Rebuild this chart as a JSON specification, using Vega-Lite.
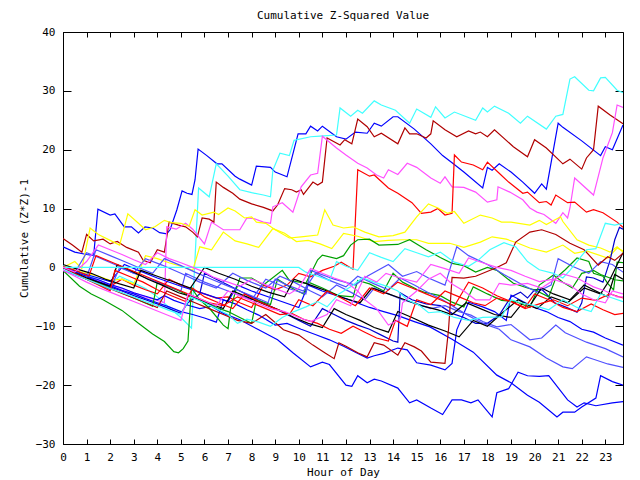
{
"$schema": "https://vega.github.io/schema/vega-lite/v6.json",
"width": 560, "height": 412,
"autosize": "none",
"padding": {"left": 63, "top": 32, "right": 17, "bottom": 36},
"background": "white",
"title": {"text": "Cumulative Z-Squared Value", "font": "DejaVu Sans Mono", "fontSize": 11, "fontWeight": "normal", "color": "black", "offset": 5, "frame": "group"},
"config": {"view": {"stroke": "black", "strokeWidth": 1}, "axis": {"labelFont": "DejaVu Sans Mono", "titleFont": "DejaVu Sans Mono", "labelFontSize": 11, "titleFontSize": 11, "titleFontWeight": "normal", "labelColor": "black", "titleColor": "black", "domainColor": "black", "tickColor": "black", "grid": false}},
"datasets": {"d": [
{"s":"b1","h":0,"v":3.5},{"s":"b1","h":0.5,"v":2.6},{"s":"b1","h":1.0,"v":2.2},{"s":"b1","h":1.3,"v":2.0},{"s":"b1","h":1.48,"v":9.9},{"s":"b1","h":2.0,"v":8.9},{"s":"b1","h":2.2,"v":9.1},{"s":"b1","h":2.6,"v":6.9},{"s":"b1","h":2.9,"v":6.9},{"s":"b1","h":3.2,"v":5.85},{"s":"b1","h":3.48,"v":6.9},{"s":"b1","h":3.8,"v":6.7},{"s":"b1","h":4.1,"v":5.9},{"s":"b1","h":4.4,"v":5.7},{"s":"b1","h":4.54,"v":6.4},{"s":"b1","h":4.83,"v":9.8},{"s":"b1","h":5.05,"v":13},{"s":"b1","h":5.26,"v":12.6},{"s":"b1","h":5.47,"v":12.4},{"s":"b1","h":5.6,"v":14.9},{"s":"b1","h":5.73,"v":20.1},{"s":"b1","h":6.1,"v":19},{"s":"b1","h":6.53,"v":17.6},{"s":"b1","h":6.74,"v":17.6},{"s":"b1","h":7.3,"v":15.5},{"s":"b1","h":7.5,"v":15},{"s":"b1","h":8.0,"v":14},{"s":"b1","h":8.2,"v":17.2},{"s":"b1","h":8.8,"v":17},{"s":"b1","h":9.0,"v":16.2},{"s":"b1","h":9.5,"v":15.4},{"s":"b1","h":9.97,"v":22.7},{"s":"b1","h":10.3,"v":22.7},{"s":"b1","h":10.5,"v":24},{"s":"b1","h":10.8,"v":23.2},{"s":"b1","h":11.0,"v":24},{"s":"b1","h":11.6,"v":22.2},{"s":"b1","h":12.0,"v":21.8},{"s":"b1","h":12.4,"v":23},{"s":"b1","h":12.9,"v":22.8},{"s":"b1","h":13.2,"v":24.5},{"s":"b1","h":13.5,"v":24},{"s":"b1","h":14.0,"v":25.6},{"s":"b1","h":14.2,"v":25.6},{"s":"b1","h":14.9,"v":23.5},{"s":"b1","h":15.6,"v":21},{"s":"b1","h":16.1,"v":19},{"s":"b1","h":16.5,"v":17.8},{"s":"b1","h":17.0,"v":16.2},{"s":"b1","h":17.8,"v":13.5},{"s":"b1","h":18.0,"v":17},{"s":"b1","h":18.2,"v":16.5},{"s":"b1","h":18.5,"v":17.6},{"s":"b1","h":19.0,"v":16.2},{"s":"b1","h":19.5,"v":14.5},{"s":"b1","h":20.0,"v":12.6},{"s":"b1","h":20.3,"v":14.2},{"s":"b1","h":20.5,"v":13.3},{"s":"b1","h":21.0,"v":24.5},{"s":"b1","h":21.2,"v":23.8},{"s":"b1","h":22.0,"v":21.5},{"s":"b1","h":22.8,"v":19},{"s":"b1","h":23.0,"v":20.5},{"s":"b1","h":23.3,"v":20},{"s":"b1","h":23.75,"v":24.2},
{"s":"c1","h":0,"v":0.3},{"s":"c1","h":0.5,"v":-0.5},{"s":"c1","h":1,"v":-1.3},{"s":"c1","h":1.5,"v":-2.1},{"s":"c1","h":2,"v":-2.9},{"s":"c1","h":2.4,"v":-1.5},{"s":"c1","h":3,"v":-2.6},{"s":"c1","h":3.5,"v":-3.6},{"s":"c1","h":4,"v":-5},{"s":"c1","h":4.5,"v":-6.8},{"s":"c1","h":5,"v":-8.5},{"s":"c1","h":5.45,"v":-10.3},{"s":"c1","h":5.75,"v":13.5},{"s":"c1","h":6.2,"v":12},{"s":"c1","h":6.5,"v":17.6},{"s":"c1","h":7,"v":15.5},{"s":"c1","h":7.5,"v":13.2},{"s":"c1","h":8.0,"v":12.7},{"s":"c1","h":8.5,"v":12.3},{"s":"c1","h":8.8,"v":12},{"s":"c1","h":8.9,"v":16.5},{"s":"c1","h":9.2,"v":19.4},{"s":"c1","h":9.6,"v":19},{"s":"c1","h":9.8,"v":21.6},{"s":"c1","h":10.5,"v":22.2},{"s":"c1","h":10.9,"v":22.3},{"s":"c1","h":11.6,"v":22.5},{"s":"c1","h":11.75,"v":27.1},{"s":"c1","h":12.2,"v":25.7},{"s":"c1","h":12.5,"v":26.7},{"s":"c1","h":12.7,"v":26.2},{"s":"c1","h":13.2,"v":28.3},{"s":"c1","h":13.5,"v":27.6},{"s":"c1","h":14.1,"v":26.7},{"s":"c1","h":14.7,"v":24.5},{"s":"c1","h":15.0,"v":26.9},{"s":"c1","h":15.6,"v":25.5},{"s":"c1","h":15.8,"v":27.3},{"s":"c1","h":16.2,"v":25.4},{"s":"c1","h":16.6,"v":26.4},{"s":"c1","h":17.5,"v":25},{"s":"c1","h":17.8,"v":27.1},{"s":"c1","h":18.0,"v":26.4},{"s":"c1","h":18.3,"v":27.4},{"s":"c1","h":18.9,"v":26.2},{"s":"c1","h":19.4,"v":24.5},{"s":"c1","h":19.7,"v":25.7},{"s":"c1","h":20.5,"v":23.5},{"s":"c1","h":20.9,"v":25.7},{"s":"c1","h":21.2,"v":26},{"s":"c1","h":21.5,"v":32},{"s":"c1","h":21.7,"v":32.4},{"s":"c1","h":22.3,"v":30.1},{"s":"c1","h":22.5,"v":30},{"s":"c1","h":22.8,"v":32.2},{"s":"c1","h":23.0,"v":32.3},{"s":"c1","h":23.5,"v":30.1},{"s":"c1","h":23.75,"v":29.7},
{"s":"r2","h":0,"v":4.9},{"s":"r2","h":0.4,"v":3.8},{"s":"r2","h":0.8,"v":2.6},{"s":"r2","h":1.0,"v":5.6},{"s":"r2","h":1.3,"v":4.5},{"s":"r2","h":1.7,"v":4.8},{"s":"r2","h":2.0,"v":4},{"s":"r2","h":2.3,"v":4.4},{"s":"r2","h":2.7,"v":3.4},{"s":"r2","h":3.2,"v":2.6},{"s":"r2","h":3.4,"v":1.2},{"s":"r2","h":3.7,"v":0.8},{"s":"r2","h":4.0,"v":3},{"s":"r2","h":4.3,"v":2.6},{"s":"r2","h":4.5,"v":7.7},{"s":"r2","h":4.9,"v":7.2},{"s":"r2","h":5.2,"v":6.9},{"s":"r2","h":5.5,"v":6},{"s":"r2","h":5.7,"v":5.2},{"s":"r2","h":5.9,"v":8.4},{"s":"r2","h":6.2,"v":8.2},{"s":"r2","h":6.4,"v":7.7},{"s":"r2","h":6.5,"v":14.5},{"s":"r2","h":6.8,"v":13.6},{"s":"r2","h":7.2,"v":12.6},{"s":"r2","h":7.5,"v":11.6},{"s":"r2","h":8.0,"v":10.8},{"s":"r2","h":8.5,"v":10.2},{"s":"r2","h":8.9,"v":9.6},{"s":"r2","h":9.1,"v":10.6},{"s":"r2","h":9.4,"v":13.4},{"s":"r2","h":9.7,"v":13.2},{"s":"r2","h":9.9,"v":12.8},{"s":"r2","h":10.1,"v":13.2},{"s":"r2","h":10.2,"v":12.4},{"s":"r2","h":10.6,"v":14.5},{"s":"r2","h":10.8,"v":14},{"s":"r2","h":11.0,"v":14.5},{"s":"r2","h":11.2,"v":22},{"s":"r2","h":11.75,"v":20.8},{"s":"r2","h":11.95,"v":21.7},{"s":"r2","h":12.25,"v":21},{"s":"r2","h":12.5,"v":25.2},{"s":"r2","h":12.9,"v":23.9},{"s":"r2","h":13.2,"v":22.2},{"s":"r2","h":13.5,"v":22.8},{"s":"r2","h":14.2,"v":21},{"s":"r2","h":14.5,"v":23.7},{"s":"r2","h":14.7,"v":22.7},{"s":"r2","h":15.0,"v":22.7},{"s":"r2","h":15.4,"v":22},{"s":"r2","h":15.6,"v":22.7},{"s":"r2","h":15.7,"v":24.9},{"s":"r2","h":16.2,"v":23.4},{"s":"r2","h":16.7,"v":22.2},{"s":"r2","h":17.2,"v":23.2},{"s":"r2","h":17.5,"v":22.7},{"s":"r2","h":17.7,"v":23},{"s":"r2","h":18.0,"v":22.2},{"s":"r2","h":18.3,"v":23.4},{"s":"r2","h":19.1,"v":20.5},{"s":"r2","h":19.7,"v":18.8},{"s":"r2","h":20.0,"v":21.7},{"s":"r2","h":20.5,"v":20.3},{"s":"r2","h":21.2,"v":17.6},{"s":"r2","h":21.5,"v":18.4},{"s":"r2","h":22.0,"v":16.7},{"s":"r2","h":22.2,"v":18.6},{"s":"r2","h":22.5,"v":20},{"s":"r2","h":22.7,"v":27.4},{"s":"r2","h":23.2,"v":25.9},{"s":"r2","h":23.75,"v":24.4},
{"s":"m1","h":0,"v":0},{"s":"m1","h":0.5,"v":-0.8},{"s":"m1","h":1,"v":-1.5},{"s":"m1","h":1.5,"v":-2.2},{"s":"m1","h":2,"v":-2.9},{"s":"m1","h":2.5,"v":-3.6},{"s":"m1","h":3,"v":-4.3},{"s":"m1","h":3.5,"v":-5},{"s":"m1","h":4,"v":-5.6},{"s":"m1","h":4.3,"v":-6},{"s":"m1","h":4.4,"v":6.9},{"s":"m1","h":4.8,"v":6.5},{"s":"m1","h":5.2,"v":7.5},{"s":"m1","h":5.5,"v":6.5},{"s":"m1","h":6.0,"v":4.0},{"s":"m1","h":6.3,"v":7.7},{"s":"m1","h":6.8,"v":6.4},{"s":"m1","h":7.3,"v":6.4},{"s":"m1","h":7.5,"v":6.4},{"s":"m1","h":7.8,"v":8.4},{"s":"m1","h":8.1,"v":8.3},{"s":"m1","h":8.5,"v":7.7},{"s":"m1","h":8.8,"v":7.5},{"s":"m1","h":8.9,"v":10.3},{"s":"m1","h":9.3,"v":11},{"s":"m1","h":9.75,"v":9.4},{"s":"m1","h":10.1,"v":13.7},{"s":"m1","h":10.5,"v":15.7},{"s":"m1","h":10.8,"v":16},{"s":"m1","h":11.0,"v":22.3},{"s":"m1","h":11.6,"v":20.3},{"s":"m1","h":12.0,"v":19.1},{"s":"m1","h":12.5,"v":17.7},{"s":"m1","h":12.9,"v":16.9},{"s":"m1","h":13.3,"v":15.7},{"s":"m1","h":13.6,"v":15.2},{"s":"m1","h":13.8,"v":16.6},{"s":"m1","h":14.2,"v":15.8},{"s":"m1","h":14.6,"v":17.7},{"s":"m1","h":15.0,"v":17},{"s":"m1","h":15.6,"v":15.2},{"s":"m1","h":16.0,"v":14.3},{"s":"m1","h":16.2,"v":15.4},{"s":"m1","h":16.5,"v":13.7},{"s":"m1","h":17.0,"v":13.6},{"s":"m1","h":17.5,"v":12.8},{"s":"m1","h":18.0,"v":11.1},{"s":"m1","h":18.4,"v":11.5},{"s":"m1","h":18.45,"v":13.7},{"s":"m1","h":18.95,"v":12.8},{"s":"m1","h":19.5,"v":11.5},{"s":"m1","h":19.8,"v":10.1},{"s":"m1","h":20.1,"v":9.4},{"s":"m1","h":20.4,"v":9},{"s":"m1","h":20.9,"v":7.5},{"s":"m1","h":21.2,"v":9.3},{"s":"m1","h":21.4,"v":8.4},{"s":"m1","h":21.5,"v":10.1},{"s":"m1","h":21.7,"v":15.2},{"s":"m1","h":22.5,"v":12.3},{"s":"m1","h":22.9,"v":18.6},{"s":"m1","h":23.3,"v":22.9},{"s":"m1","h":23.5,"v":27.6},{"s":"m1","h":23.75,"v":27.2},
{"s":"r1","h":0,"v":0},{"s":"r1","h":0.5,"v":-1},{"s":"r1","h":1,"v":-1.8},{"s":"r1","h":1.5,"v":-2.5},{"s":"r1","h":2,"v":-3.2},{"s":"r1","h":2.5,"v":-2},{"s":"r1","h":3,"v":-3},{"s":"r1","h":3.5,"v":-3.8},{"s":"r1","h":4,"v":-4.5},{"s":"r1","h":4.5,"v":-2},{"s":"r1","h":5,"v":-3},{"s":"r1","h":5.5,"v":-3.8},{"s":"r1","h":6,"v":-4.5},{"s":"r1","h":6.5,"v":-5.2},{"s":"r1","h":7,"v":-5},{"s":"r1","h":7.5,"v":-6},{"s":"r1","h":8,"v":-6.8},{"s":"r1","h":8.5,"v":-3},{"s":"r1","h":9,"v":-3.8},{"s":"r1","h":9.5,"v":-3},{"s":"r1","h":10,"v":-1},{"s":"r1","h":10.5,"v":-1.6},{"s":"r1","h":11,"v":-0.5},{"s":"r1","h":11.5,"v":0.2},{"s":"r1","h":11.8,"v":0.9},{"s":"r1","h":12.3,"v":-0.3},{"s":"r1","h":12.5,"v":16.6},{"s":"r1","h":13.0,"v":15.5},{"s":"r1","h":13.2,"v":15.7},{"s":"r1","h":13.8,"v":13.5},{"s":"r1","h":14.2,"v":12.6},{"s":"r1","h":14.8,"v":11},{"s":"r1","h":15.2,"v":9.2},{"s":"r1","h":15.6,"v":9.4},{"s":"r1","h":15.9,"v":10},{"s":"r1","h":16.2,"v":8.9},{"s":"r1","h":16.5,"v":9.2},{"s":"r1","h":16.6,"v":19.1},{"s":"r1","h":16.9,"v":17.9},{"s":"r1","h":17.4,"v":17.4},{"s":"r1","h":17.8,"v":16.6},{"s":"r1","h":18.0,"v":17.9},{"s":"r1","h":18.5,"v":16},{"s":"r1","h":18.9,"v":14.5},{"s":"r1","h":19.5,"v":12.6},{"s":"r1","h":19.7,"v":12.8},{"s":"r1","h":20.2,"v":11},{"s":"r1","h":20.5,"v":11.2},{"s":"r1","h":20.7,"v":10.6},{"s":"r1","h":20.9,"v":12.3},{"s":"r1","h":21.4,"v":11},{"s":"r1","h":21.7,"v":11.1},{"s":"r1","h":22.2,"v":9.4},{"s":"r1","h":22.5,"v":9.8},{"s":"r1","h":22.9,"v":9.3},{"s":"r1","h":23.5,"v":7.7},{"s":"r1","h":23.75,"v":6.8},
{"s":"y1","h":0,"v":0},{"s":"y1","h":0.5,"v":1},{"s":"y1","h":0.8,"v":-0.2},{"s":"y1","h":1.15,"v":6.7},{"s":"y1","h":1.5,"v":5.6},{"s":"y1","h":2.0,"v":4.6},{"s":"y1","h":2.4,"v":3.8},{"s":"y1","h":2.75,"v":9.1},{"s":"y1","h":3.2,"v":7.5},{"s":"y1","h":3.5,"v":6.4},{"s":"y1","h":3.9,"v":6.9},{"s":"y1","h":4.3,"v":8},{"s":"y1","h":4.6,"v":7.6},{"s":"y1","h":5.0,"v":7.5},{"s":"y1","h":5.35,"v":7},{"s":"y1","h":5.6,"v":9.8},{"s":"y1","h":5.9,"v":8.9},{"s":"y1","h":6.4,"v":9.4},{"s":"y1","h":6.6,"v":9},{"s":"y1","h":7.0,"v":10.1},{"s":"y1","h":7.3,"v":9.6},{"s":"y1","h":7.7,"v":8.4},{"s":"y1","h":8.0,"v":8.6},{"s":"y1","h":8.2,"v":7.7},{"s":"y1","h":8.6,"v":7.5},{"s":"y1","h":9.0,"v":6.4},{"s":"y1","h":9.6,"v":5},{"s":"y1","h":10.1,"v":5.2},{"s":"y1","h":10.8,"v":5.5},{"s":"y1","h":11.1,"v":9.8},{"s":"y1","h":11.45,"v":7.2},{"s":"y1","h":11.9,"v":6.7},{"s":"y1","h":12.3,"v":6.9},{"s":"y1","h":12.8,"v":6},{"s":"y1","h":13.4,"v":5.2},{"s":"y1","h":14.0,"v":5.4},{"s":"y1","h":14.5,"v":6},{"s":"y1","h":15.0,"v":8.6},{"s":"y1","h":15.5,"v":10.8},{"s":"y1","h":15.9,"v":10.1},{"s":"y1","h":16.3,"v":9.2},{"s":"y1","h":16.6,"v":9.5},{"s":"y1","h":17.0,"v":7.5},{"s":"y1","h":17.7,"v":8.9},{"s":"y1","h":18.2,"v":8.4},{"s":"y1","h":18.6,"v":7.7},{"s":"y1","h":19.0,"v":7.7},{"s":"y1","h":19.8,"v":7.2},{"s":"y1","h":20.2,"v":8},{"s":"y1","h":20.5,"v":7.3},{"s":"y1","h":21.1,"v":8.6},{"s":"y1","h":21.2,"v":7.8},{"s":"y1","h":21.8,"v":4.7},{"s":"y1","h":22.3,"v":3.8},{"s":"y1","h":22.8,"v":3.3},{"s":"y1","h":23.2,"v":2.6},{"s":"y1","h":23.5,"v":3.5},{"s":"y1","h":23.75,"v":2.6},
{"s":"y2","h":0,"v":0},{"s":"y2","h":0.5,"v":-0.5},{"s":"y2","h":1,"v":-1},{"s":"y2","h":1.5,"v":-1.5},{"s":"y2","h":2,"v":-2.2},{"s":"y2","h":2.5,"v":-2},{"s":"y2","h":3,"v":-2.8},{"s":"y2","h":3.5,"v":2},{"s":"y2","h":4,"v":1.5},{"s":"y2","h":4.5,"v":0.8},{"s":"y2","h":5,"v":0.2},{"s":"y2","h":5.5,"v":-0.5},{"s":"y2","h":5.8,"v":3.5},{"s":"y2","h":6.3,"v":3},{"s":"y2","h":6.8,"v":6},{"s":"y2","h":7.3,"v":4.5},{"s":"y2","h":7.8,"v":4},{"s":"y2","h":8.3,"v":3.4},{"s":"y2","h":8.9,"v":6.6},{"s":"y2","h":9.4,"v":5.8},{"s":"y2","h":9.9,"v":4.4},{"s":"y2","h":10.4,"v":4.6},{"s":"y2","h":10.9,"v":4},{"s":"y2","h":11.4,"v":3.2},{"s":"y2","h":11.9,"v":5.8},{"s":"y2","h":12.5,"v":5.3},{"s":"y2","h":13.2,"v":4.4},{"s":"y2","h":13.8,"v":4.6},{"s":"y2","h":14.4,"v":4.7},{"s":"y2","h":15.0,"v":4.7},{"s":"y2","h":15.5,"v":4.1},{"s":"y2","h":16.4,"v":4.1},{"s":"y2","h":17,"v":3.4},{"s":"y2","h":17.7,"v":4.3},{"s":"y2","h":18.2,"v":5.2},{"s":"y2","h":18.8,"v":4.8},{"s":"y2","h":19.3,"v":4.1},{"s":"y2","h":19.8,"v":3.3},{"s":"y2","h":20.5,"v":2.6},{"s":"y2","h":21.2,"v":3.8},{"s":"y2","h":21.7,"v":2.4},{"s":"y2","h":22.2,"v":2.8},{"s":"y2","h":23.1,"v":1.6},{"s":"y2","h":23.5,"v":3.3},{"s":"y2","h":23.75,"v":2.8},
{"s":"b2","h":0,"v":0},{"s":"b2","h":0.5,"v":-0.8},{"s":"b2","h":1,"v":-1.5},{"s":"b2","h":1.5,"v":-2.1},{"s":"b2","h":2,"v":-2.9},{"s":"b2","h":2.5,"v":-3.5},{"s":"b2","h":3,"v":-4.3},{"s":"b2","h":3.5,"v":-4.9},{"s":"b2","h":4,"v":-5.5},{"s":"b2","h":4.3,"v":-4.8},{"s":"b2","h":4.7,"v":-5.6},{"s":"b2","h":5.2,"v":-6.3},{"s":"b2","h":5.8,"v":-7},{"s":"b2","h":6.3,"v":-6.6},{"s":"b2","h":6.8,"v":-7.8},{"s":"b2","h":7.5,"v":-8.9},{"s":"b2","h":8.3,"v":-10.6},{"s":"b2","h":9.1,"v":-12.3},{"s":"b2","h":9.75,"v":-14.5},{"s":"b2","h":10.5,"v":-16.9},{"s":"b2","h":11.0,"v":-16.1},{"s":"b2","h":11.3,"v":-16.5},{"s":"b2","h":12.0,"v":-20},{"s":"b2","h":12.25,"v":-20.2},{"s":"b2","h":12.5,"v":-18.4},{"s":"b2","h":12.9,"v":-19.6},{"s":"b2","h":13.2,"v":-19},{"s":"b2","h":13.5,"v":-19.3},{"s":"b2","h":14.2,"v":-20.5},{"s":"b2","h":14.7,"v":-23},{"s":"b2","h":15.0,"v":-22.5},{"s":"b2","h":15.6,"v":-23.9},{"s":"b2","h":16.1,"v":-25},{"s":"b2","h":16.5,"v":-22.5},{"s":"b2","h":16.9,"v":-22.5},{"s":"b2","h":17.3,"v":-23},{"s":"b2","h":17.6,"v":-22.5},{"s":"b2","h":18.2,"v":-25.4},{"s":"b2","h":18.4,"v":-21.3},{"s":"b2","h":18.9,"v":-20.6},{"s":"b2","h":19.3,"v":-17.8},{"s":"b2","h":19.7,"v":-18.4},{"s":"b2","h":20.2,"v":-18.5},{"s":"b2","h":20.6,"v":-18.4},{"s":"b2","h":21.4,"v":-22.5},{"s":"b2","h":21.8,"v":-23.7},{"s":"b2","h":22.1,"v":-23},{"s":"b2","h":22.6,"v":-23.5},{"s":"b2","h":23.3,"v":-23},{"s":"b2","h":23.75,"v":-22.8},
{"s":"b3","h":0,"v":0},{"s":"b3","h":1,"v":-1.2},{"s":"b3","h":2,"v":-2.4},{"s":"b3","h":2.6,"v":0.5},{"s":"b3","h":3.2,"v":-0.5},{"s":"b3","h":4,"v":-1.8},{"s":"b3","h":5,"v":-3.2},{"s":"b3","h":6,"v":-4.5},{"s":"b3","h":7,"v":-5.8},{"s":"b3","h":7.4,"v":-3},{"s":"b3","h":8,"v":-4},{"s":"b3","h":9,"v":-5.4},{"s":"b3","h":10,"v":-6.8},{"s":"b3","h":10.4,"v":-3},{"s":"b3","h":11,"v":-4},{"s":"b3","h":12,"v":-5.3},{"s":"b3","h":13,"v":-6.8},{"s":"b3","h":13.6,"v":-7.5},{"s":"b3","h":14.2,"v":-8.2},{"s":"b3","h":14.9,"v":-9.2},{"s":"b3","h":15.56,"v":-10.1},{"s":"b3","h":16.5,"v":-12.2},{"s":"b3","h":17.4,"v":-14.4},{"s":"b3","h":18.4,"v":-18.3},{"s":"b3","h":19.0,"v":-19.6},{"s":"b3","h":19.7,"v":-21.7},{"s":"b3","h":20.2,"v":-22.9},{"s":"b3","h":20.95,"v":-25.4},{"s":"b3","h":21.2,"v":-24.6},{"s":"b3","h":21.7,"v":-24.6},{"s":"b3","h":22.0,"v":-23.7},{"s":"b3","h":22.6,"v":-22.2},{"s":"b3","h":22.8,"v":-18.4},{"s":"b3","h":23.3,"v":-19.4},{"s":"b3","h":23.75,"v":-20},
{"s":"b4","h":0,"v":0},{"s":"b4","h":0.5,"v":-1},{"s":"b4","h":1,"v":-1.8},{"s":"b4","h":1.5,"v":-2.6},{"s":"b4","h":2,"v":-3.3},{"s":"b4","h":2.5,"v":-4},{"s":"b4","h":3,"v":-4.8},{"s":"b4","h":3.5,"v":-5.5},{"s":"b4","h":4,"v":-6.2},{"s":"b4","h":4.5,"v":-7},{"s":"b4","h":5,"v":-7.8},{"s":"b4","h":5.3,"v":-6},{"s":"b4","h":5.8,"v":-4.5},{"s":"b4","h":6.0,"v":-1},{"s":"b4","h":6.5,"v":-2},{"s":"b4","h":7,"v":-3},{"s":"b4","h":7.5,"v":-4},{"s":"b4","h":8,"v":-5},{"s":"b4","h":8.5,"v":-6},{"s":"b4","h":9,"v":-7},{"s":"b4","h":9.5,"v":-8},{"s":"b4","h":10,"v":-9},{"s":"b4","h":10.5,"v":-10},{"s":"b4","h":11,"v":-7},{"s":"b4","h":11.5,"v":-8},{"s":"b4","h":12,"v":-9},{"s":"b4","h":12.5,"v":-9.8},{"s":"b4","h":13,"v":-10.5},{"s":"b4","h":13.5,"v":-11.5},{"s":"b4","h":14.0,"v":-12.5},{"s":"b4","h":14.2,"v":-12.7},{"s":"b4","h":14.3,"v":-4.3},{"s":"b4","h":14.8,"v":-5.5},{"s":"b4","h":15.4,"v":-6.2},{"s":"b4","h":16,"v":-6.5},{"s":"b4","h":16.5,"v":-7.8},{"s":"b4","h":17,"v":-8.5},{"s":"b4","h":17.5,"v":-9.5},{"s":"b4","h":18.0,"v":-9.5},{"s":"b4","h":18.5,"v":-8.1},{"s":"b4","h":19.0,"v":-5},{"s":"b4","h":19.4,"v":-4.2},{"s":"b4","h":19.7,"v":-5.2},{"s":"b4","h":20.0,"v":-3.8},{"s":"b4","h":20.3,"v":-3.7},{"s":"b4","h":20.5,"v":-4.5},{"s":"b4","h":20.85,"v":-6},{"s":"b4","h":21.3,"v":-6.7},{"s":"b4","h":21.8,"v":-7.6},{"s":"b4","h":22.0,"v":-6},{"s":"b4","h":22.2,"v":-1.6},{"s":"b4","h":22.5,"v":-1.8},{"s":"b4","h":22.9,"v":-2.5},{"s":"b4","h":23.0,"v":-1.3},{"s":"b4","h":23.2,"v":1.2},{"s":"b4","h":23.4,"v":4.7},{"s":"b4","h":23.6,"v":6.8},{"s":"b4","h":23.75,"v":6.5},
{"s":"b5","h":0,"v":0},{"s":"b5","h":0.5,"v":-0.8},{"s":"b5","h":1,"v":-1.6},{"s":"b5","h":1.5,"v":-2.4},{"s":"b5","h":2,"v":-3.1},{"s":"b5","h":2.5,"v":-3.9},{"s":"b5","h":3,"v":-4.5},{"s":"b5","h":3.5,"v":-5.3},{"s":"b5","h":4,"v":-6},{"s":"b5","h":4.5,"v":-6.7},{"s":"b5","h":5,"v":-7.5},{"s":"b5","h":5.5,"v":-8},{"s":"b5","h":6,"v":-8.6},{"s":"b5","h":6.5,"v":-9.3},{"s":"b5","h":6.8,"v":-5.5},{"s":"b5","h":7.3,"v":-6.2},{"s":"b5","h":7.8,"v":-7.2},{"s":"b5","h":8.3,"v":-8.1},{"s":"b5","h":9.0,"v":-9.8},{"s":"b5","h":9.5,"v":-9.5},{"s":"b5","h":10.1,"v":-10.5},{"s":"b5","h":10.7,"v":-11.4},{"s":"b5","h":11.3,"v":-12.3},{"s":"b5","h":11.9,"v":-13.4},{"s":"b5","h":12.4,"v":-14.4},{"s":"b5","h":12.9,"v":-15.4},{"s":"b5","h":13.2,"v":-15},{"s":"b5","h":13.6,"v":-14.6},{"s":"b5","h":14.2,"v":-13.7},{"s":"b5","h":14.6,"v":-14},{"s":"b5","h":15.0,"v":-16.2},{"s":"b5","h":15.6,"v":-16.6},{"s":"b5","h":16.2,"v":-17.4},{"s":"b5","h":16.5,"v":-16.3},{"s":"b5","h":16.7,"v":-10.6},{"s":"b5","h":17.2,"v":-5.9},{"s":"b5","h":17.8,"v":-6.7},{"s":"b5","h":18.3,"v":-7.5},{"s":"b5","h":18.8,"v":-9},{"s":"b5","h":19.0,"v":-4.7},{"s":"b5","h":19.5,"v":-5.8},{"s":"b5","h":20.0,"v":-6.8},{"s":"b5","h":20.5,"v":-7.5},{"s":"b5","h":21.0,"v":-8.5},{"s":"b5","h":21.5,"v":-9.2},{"s":"b5","h":22.0,"v":-10.5},{"s":"b5","h":22.5,"v":-11},{"s":"b5","h":23.0,"v":-12},{"s":"b5","h":23.75,"v":-13.2},
{"s":"g1","h":0,"v":-0.5},{"s":"g1","h":0.7,"v":-3.2},{"s":"g1","h":1.2,"v":-4.5},{"s":"g1","h":1.7,"v":-5.5},{"s":"g1","h":2.5,"v":-7.3},{"s":"g1","h":3.2,"v":-9.5},{"s":"g1","h":3.8,"v":-11.3},{"s":"g1","h":4.3,"v":-12.6},{"s":"g1","h":4.7,"v":-14.3},{"s":"g1","h":4.9,"v":-14.5},{"s":"g1","h":5.1,"v":-13.8},{"s":"g1","h":5.3,"v":-12.5},{"s":"g1","h":5.45,"v":-3.5},{"s":"g1","h":5.8,"v":-5.5},{"s":"g1","h":6.2,"v":-6.9},{"s":"g1","h":6.8,"v":-9.8},{"s":"g1","h":7.0,"v":-10.4},{"s":"g1","h":7.1,"v":-7.2},{"s":"g1","h":7.3,"v":-4.3},{"s":"g1","h":7.5,"v":-1.8},{"s":"g1","h":8.0,"v":-1.8},{"s":"g1","h":8.5,"v":-3},{"s":"g1","h":9.3,"v":-0.5},{"s":"g1","h":9.6,"v":-2.2},{"s":"g1","h":10.3,"v":-2.7},{"s":"g1","h":10.8,"v":1.3},{"s":"g1","h":11.0,"v":2.1},{"s":"g1","h":11.6,"v":1.5},{"s":"g1","h":11.9,"v":2},{"s":"g1","h":12.2,"v":3.8},{"s":"g1","h":12.5,"v":4.7},{"s":"g1","h":13.0,"v":4.8},{"s":"g1","h":13.4,"v":3.8},{"s":"g1","h":14.2,"v":3.9},{"s":"g1","h":14.7,"v":4.7},{"s":"g1","h":15.4,"v":3},{"s":"g1","h":16.0,"v":1.7},{"s":"g1","h":16.5,"v":0.7},{"s":"g1","h":17.0,"v":0.3},{"s":"g1","h":17.5,"v":-0.8},{"s":"g1","h":18.0,"v":0},{"s":"g1","h":18.4,"v":-0.5},{"s":"g1","h":19.1,"v":-2.7},{"s":"g1","h":19.7,"v":-3.5},{"s":"g1","h":20.0,"v":-3.8},{"s":"g1","h":20.6,"v":-5},{"s":"g1","h":20.9,"v":-1.8},{"s":"g1","h":21.3,"v":-0.4},{"s":"g1","h":21.8,"v":1.6},{"s":"g1","h":22.3,"v":1},{"s":"g1","h":22.5,"v":-1},{"s":"g1","h":22.9,"v":-1.5},{"s":"g1","h":23.1,"v":-2.7},{"s":"g1","h":23.35,"v":-3.8},{"s":"g1","h":23.5,"v":0.9},{"s":"g1","h":23.75,"v":0.8},
{"s":"g2","h":0,"v":0},{"s":"g2","h":1,"v":-1.8},{"s":"g2","h":2,"v":-3.5},{"s":"g2","h":3,"v":-5.2},{"s":"g2","h":3.8,"v":-6.6},{"s":"g2","h":4.0,"v":-2.5},{"s":"g2","h":4.8,"v":-3.8},{"s":"g2","h":5.8,"v":-5.6},{"s":"g2","h":6.5,"v":-6.8},{"s":"g2","h":7.0,"v":-7.5},{"s":"g2","h":7.5,"v":-8.5},{"s":"g2","h":8.0,"v":-9.5},{"s":"g2","h":8.2,"v":-5.5},{"s":"g2","h":8.8,"v":-6.3},{"s":"g2","h":9.1,"v":-2},{"s":"g2","h":9.6,"v":-3.3},{"s":"g2","h":10.2,"v":-4.5},{"s":"g2","h":10.4,"v":-2.5},{"s":"g2","h":11,"v":-3.5},{"s":"g2","h":11.7,"v":-4.8},{"s":"g2","h":12.3,"v":-5},{"s":"g2","h":12.5,"v":-2.2},{"s":"g2","h":13,"v":-2.8},{"s":"g2","h":13.6,"v":-4},{"s":"g2","h":14.0,"v":-1},{"s":"g2","h":14.4,"v":-2.5},{"s":"g2","h":15.0,"v":-3.7},{"s":"g2","h":15.3,"v":-4.2},{"s":"g2","h":16.0,"v":-4.8},{"s":"g2","h":16.5,"v":-5.9},{"s":"g2","h":17.0,"v":-6.7},{"s":"g2","h":17.4,"v":-3.3},{"s":"g2","h":18.0,"v":-4.5},{"s":"g2","h":18.6,"v":-5.6},{"s":"g2","h":19.2,"v":-5.8},{"s":"g2","h":19.8,"v":-6.8},{"s":"g2","h":20.2,"v":-3},{"s":"g2","h":20.8,"v":-1.3},{"s":"g2","h":21.2,"v":-2.5},{"s":"g2","h":21.6,"v":-3.5},{"s":"g2","h":22,"v":-1},{"s":"g2","h":22.5,"v":-0.5},{"s":"g2","h":22.8,"v":-1.2},{"s":"g2","h":23.4,"v":-2.1},{"s":"g2","h":23.75,"v":-2.3},
{"s":"p1","h":0,"v":0},{"s":"p1","h":0.5,"v":-0.9},{"s":"p1","h":1.0,"v":2.5},{"s":"p1","h":1.5,"v":1.7},{"s":"p1","h":2.2,"v":0.5},{"s":"p1","h":3,"v":-1},{"s":"p1","h":3.5,"v":1.5},{"s":"p1","h":4.2,"v":0.4},{"s":"p1","h":5,"v":-1},{"s":"p1","h":5.8,"v":-2.5},{"s":"p1","h":6.5,"v":-3.5},{"s":"p1","h":7.2,"v":-1},{"s":"p1","h":7.8,"v":-2.2},{"s":"p1","h":8.6,"v":-3.5},{"s":"p1","h":9.2,"v":-1.5},{"s":"p1","h":9.8,"v":-2.5},{"s":"p1","h":10.5,"v":-4},{"s":"p1","h":11.0,"v":-5},{"s":"p1","h":11.6,"v":-3},{"s":"p1","h":12.2,"v":-4.2},{"s":"p1","h":12.8,"v":-5.5},{"s":"p1","h":13.2,"v":-3.5},{"s":"p1","h":13.8,"v":-4.5},{"s":"p1","h":14.4,"v":-5.5},{"s":"p1","h":15.0,"v":-6.2},{"s":"p1","h":15.6,"v":-7},{"s":"p1","h":16.2,"v":-6.5},{"s":"p1","h":16.8,"v":-7.5},{"s":"p1","h":17.3,"v":-8.1},{"s":"p1","h":17.8,"v":-9.2},{"s":"p1","h":18.4,"v":-10.1},{"s":"p1","h":19.0,"v":-9.7},{"s":"p1","h":19.8,"v":-12.3},{"s":"p1","h":20.3,"v":-12},{"s":"p1","h":20.9,"v":-9.8},{"s":"p1","h":21.3,"v":-11.1},{"s":"p1","h":22.2,"v":-12.7},{"s":"p1","h":23.0,"v":-13.8},{"s":"p1","h":23.75,"v":-15.2},
{"s":"p2","h":0,"v":0},{"s":"p2","h":0.5,"v":-1},{"s":"p2","h":1,"v":-1.7},{"s":"p2","h":1.4,"v":3},{"s":"p2","h":2,"v":2},{"s":"p2","h":2.6,"v":1},{"s":"p2","h":3.2,"v":0},{"s":"p2","h":3.8,"v":-1},{"s":"p2","h":4.3,"v":1.5},{"s":"p2","h":5,"v":0.3},{"s":"p2","h":5.6,"v":-0.8},{"s":"p2","h":6.3,"v":-2},{"s":"p2","h":6.9,"v":-3},{"s":"p2","h":7.5,"v":-4},{"s":"p2","h":8.1,"v":-5},{"s":"p2","h":8.7,"v":-6},{"s":"p2","h":9.0,"v":-2},{"s":"p2","h":9.5,"v":-3},{"s":"p2","h":10.2,"v":-4},{"s":"p2","h":10.7,"v":-1},{"s":"p2","h":11.3,"v":-2.2},{"s":"p2","h":12.0,"v":-3.3},{"s":"p2","h":12.5,"v":-1.5},{"s":"p2","h":13.2,"v":-2.8},{"s":"p2","h":13.8,"v":-3.8},{"s":"p2","h":14.3,"v":-1.8},{"s":"p2","h":14.9,"v":-3},{"s":"p2","h":15.5,"v":-4.3},{"s":"p2","h":16.1,"v":-5.5},{"s":"p2","h":16.7,"v":-7},{"s":"p2","h":17.2,"v":-8.2},{"s":"p2","h":17.8,"v":-9.5},{"s":"p2","h":18.5,"v":-10.5},{"s":"p2","h":19.0,"v":-12.3},{"s":"p2","h":19.8,"v":-13.5},{"s":"p2","h":20.5,"v":-15.4},{"s":"p2","h":21.2,"v":-16.9},{"s":"p2","h":21.6,"v":-17.2},{"s":"p2","h":22.2,"v":-15.2},{"s":"p2","h":22.5,"v":-15.6},{"s":"p2","h":23.1,"v":-16.4},{"s":"p2","h":23.75,"v":-17},
{"s":"p3","h":0,"v":-0.5},{"s":"p3","h":1,"v":-2},{"s":"p3","h":2,"v":-3.8},{"s":"p3","h":2.4,"v":0},{"s":"p3","h":3,"v":-1},{"s":"p3","h":4,"v":-2.5},{"s":"p3","h":5,"v":-4},{"s":"p3","h":5.2,"v":-1},{"s":"p3","h":6,"v":-2.5},{"s":"p3","h":7,"v":-4},{"s":"p3","h":8,"v":-5.5},{"s":"p3","h":8.6,"v":-2},{"s":"p3","h":9.5,"v":-3.5},{"s":"p3","h":10.3,"v":-4.5},{"s":"p3","h":10.5,"v":-0.5},{"s":"p3","h":11.5,"v":-2},{"s":"p3","h":12.4,"v":-3},{"s":"p3","h":12.9,"v":-1.5},{"s":"p3","h":13.8,"v":0.5},{"s":"p3","h":14.4,"v":-1.5},{"s":"p3","h":15,"v":-0.7},{"s":"p3","h":15.5,"v":-1.8},{"s":"p3","h":16.2,"v":-3},{"s":"p3","h":16.7,"v":3.5},{"s":"p3","h":17.2,"v":2},{"s":"p3","h":18,"v":0.5},{"s":"p3","h":18.7,"v":-1.2},{"s":"p3","h":19.5,"v":-3},{"s":"p3","h":20.1,"v":-4.2},{"s":"p3","h":20.7,"v":-3},{"s":"p3","h":21.0,"v":1.5},{"s":"p3","h":21.6,"v":0.2},{"s":"p3","h":22.3,"v":-1},{"s":"p3","h":22.8,"v":1},{"s":"p3","h":23.3,"v":0.5},{"s":"p3","h":23.75,"v":-0.8},
{"s":"k1","h":0,"v":0},{"s":"k1","h":0.5,"v":-0.9},{"s":"k1","h":1,"v":-1.8},{"s":"k1","h":1.5,"v":-2.5},{"s":"k1","h":2,"v":-3.2},{"s":"k1","h":2.3,"v":0.5},{"s":"k1","h":3,"v":-0.8},{"s":"k1","h":3.6,"v":-2},{"s":"k1","h":4.2,"v":-3},{"s":"k1","h":4.9,"v":-4.3},{"s":"k1","h":5.5,"v":-5},{"s":"k1","h":6.1,"v":-6},{"s":"k1","h":6.8,"v":-7},{"s":"k1","h":7.2,"v":-4},{"s":"k1","h":7.8,"v":-5},{"s":"k1","h":8.5,"v":-6.2},{"s":"k1","h":9.2,"v":-7.3},{"s":"k1","h":9.8,"v":-8.5},{"s":"k1","h":10.4,"v":-9.5},{"s":"k1","h":11,"v":-10.2},{"s":"k1","h":11.5,"v":-7},{"s":"k1","h":12,"v":-8},{"s":"k1","h":12.6,"v":-9},{"s":"k1","h":13.2,"v":-10.2},{"s":"k1","h":13.8,"v":-11},{"s":"k1","h":14.2,"v":-7.5},{"s":"k1","h":14.8,"v":-8.5},{"s":"k1","h":15.5,"v":-9.8},{"s":"k1","h":16.2,"v":-10.8},{"s":"k1","h":16.8,"v":-11.8},{"s":"k1","h":17.4,"v":-9},{"s":"k1","h":18,"v":-10},{"s":"k1","h":18.7,"v":-7.5},{"s":"k1","h":19.3,"v":-5.5},{"s":"k1","h":19.8,"v":-6.5},{"s":"k1","h":20.3,"v":-3.5},{"s":"k1","h":20.8,"v":-4.5},{"s":"k1","h":21.5,"v":-5.5},{"s":"k1","h":22.1,"v":-3},{"s":"k1","h":22.6,"v":-4},{"s":"k1","h":23.1,"v":-5},{"s":"k1","h":23.4,"v":-1.2},{"s":"k1","h":23.75,"v":-2},
{"s":"k2","h":0,"v":0.5},{"s":"k2","h":0.6,"v":-0.3},{"s":"k2","h":1.2,"v":-1},{"s":"k2","h":1.8,"v":-2},{"s":"k2","h":2.4,"v":-2.8},{"s":"k2","h":3,"v":-3.5},{"s":"k2","h":3.3,"v":-0.5},{"s":"k2","h":4,"v":-1.5},{"s":"k2","h":4.8,"v":-2.6},{"s":"k2","h":5.4,"v":-3.5},{"s":"k2","h":6,"v":0},{"s":"k2","h":6.6,"v":-1},{"s":"k2","h":7.3,"v":-2},{"s":"k2","h":8,"v":-3.2},{"s":"k2","h":8.7,"v":-4.2},{"s":"k2","h":9.4,"v":-5},{"s":"k2","h":9.8,"v":-2},{"s":"k2","h":10.5,"v":-3},{"s":"k2","h":11.2,"v":-4},{"s":"k2","h":11.9,"v":-5.2},{"s":"k2","h":12.6,"v":-6},{"s":"k2","h":13.1,"v":-3.5},{"s":"k2","h":13.8,"v":-4.5},{"s":"k2","h":14.5,"v":-5.5},{"s":"k2","h":15.2,"v":-6.5},{"s":"k2","h":15.9,"v":-7.2},{"s":"k2","h":16.5,"v":-8},{"s":"k2","h":17.1,"v":-6},{"s":"k2","h":17.7,"v":-7},{"s":"k2","h":18.3,"v":-8},{"s":"k2","h":19,"v":-8.5},{"s":"k2","h":19.5,"v":-6},{"s":"k2","h":20.1,"v":-7},{"s":"k2","h":20.7,"v":-5},{"s":"k2","h":21.4,"v":-6},{"s":"k2","h":22.1,"v":-3.5},{"s":"k2","h":22.8,"v":-4.5},{"s":"k2","h":23.2,"v":-2},{"s":"k2","h":23.75,"v":2.5},
{"s":"r3","h":0,"v":0},{"s":"r3","h":0.5,"v":-1},{"s":"r3","h":1,"v":-2},{"s":"r3","h":1.5,"v":-3},{"s":"r3","h":2.0,"v":-4},{"s":"r3","h":2.2,"v":-0.5},{"s":"r3","h":2.8,"v":-1.5},{"s":"r3","h":3.4,"v":-2.5},{"s":"r3","h":4,"v":-3.8},{"s":"r3","h":4.6,"v":-4.8},{"s":"r3","h":5.2,"v":-5.8},{"s":"r3","h":5.5,"v":-3.5},{"s":"r3","h":6,"v":-5},{"s":"r3","h":6.6,"v":-6},{"s":"r3","h":7.2,"v":-7},{"s":"r3","h":7.7,"v":-4.5},{"s":"r3","h":8.3,"v":-5.8},{"s":"r3","h":9,"v":-7},{"s":"r3","h":9.6,"v":-8},{"s":"r3","h":10,"v":-5.5},{"s":"r3","h":10.6,"v":-6.5},{"s":"r3","h":11.2,"v":-4},{"s":"r3","h":11.8,"v":-5.2},{"s":"r3","h":12.4,"v":-6.5},{"s":"r3","h":13.0,"v":-3.5},{"s":"r3","h":13.6,"v":-4.5},{"s":"r3","h":14.2,"v":-2.5},{"s":"r3","h":14.8,"v":-3.5},{"s":"r3","h":15.4,"v":-4.5},{"s":"r3","h":16.0,"v":-5.5},{"s":"r3","h":16.6,"v":-6.5},{"s":"r3","h":17.2,"v":-2.5},{"s":"r3","h":17.8,"v":-3.5},{"s":"r3","h":18.4,"v":-4.8},{"s":"r3","h":19,"v":-5.8},{"s":"r3","h":19.6,"v":-6.8},{"s":"r3","h":20,"v":-4.5},{"s":"r3","h":20.6,"v":-5.5},{"s":"r3","h":21.2,"v":-6.8},{"s":"r3","h":21.8,"v":-7.5},{"s":"r3","h":22.4,"v":-6.2},{"s":"r3","h":22.9,"v":-7.2},{"s":"r3","h":23.4,"v":-8},{"s":"r3","h":23.75,"v":-7.8},
{"s":"r4","h":0,"v":0.2},{"s":"r4","h":0.6,"v":-0.6},{"s":"r4","h":1.1,"v":-1.5},{"s":"r4","h":1.4,"v":2},{"s":"r4","h":2,"v":1},{"s":"r4","h":2.6,"v":0},{"s":"r4","h":3.2,"v":-1},{"s":"r4","h":3.8,"v":-2},{"s":"r4","h":4.4,"v":-3},{"s":"r4","h":5,"v":-4},{"s":"r4","h":5.6,"v":-5},{"s":"r4","h":6.2,"v":-6},{"s":"r4","h":6.8,"v":-6.5},{"s":"r4","h":7.4,"v":-5},{"s":"r4","h":8,"v":-6},{"s":"r4","h":8.6,"v":-7},{"s":"r4","h":9.2,"v":-8},{"s":"r4","h":9.7,"v":-7.8},{"s":"r4","h":10.2,"v":-8.8},{"s":"r4","h":10.8,"v":-9.5},{"s":"r4","h":11.3,"v":-10.5},{"s":"r4","h":11.8,"v":-11.2},{"s":"r4","h":12.3,"v":-10},{"s":"r4","h":12.8,"v":-11},{"s":"r4","h":13.3,"v":-12},{"s":"r4","h":13.8,"v":-12.5},{"s":"r4","h":14.1,"v":-9},{"s":"r4","h":14.6,"v":-10},{"s":"r4","h":15.0,"v":-5.5},{"s":"r4","h":15.6,"v":-6.3},{"s":"r4","h":16.2,"v":-4},{"s":"r4","h":16.8,"v":-5},{"s":"r4","h":17.4,"v":-6},{"s":"r4","h":17.9,"v":-6.5},{"s":"r4","h":18.4,"v":-5.2},{"s":"r4","h":19.0,"v":-5.8},{"s":"r4","h":19.6,"v":-7},{"s":"r4","h":20.2,"v":-6.2},{"s":"r4","h":20.8,"v":-5.5},{"s":"r4","h":21.4,"v":-6.5},{"s":"r4","h":22.0,"v":-5.2},{"s":"r4","h":22.6,"v":-5.6},{"s":"r4","h":23.2,"v":-4.5},{"s":"r4","h":23.75,"v":-5.2},
{"s":"r5","h":0,"v":0},{"s":"r5","h":0.5,"v":-1},{"s":"r5","h":1,"v":-2},{"s":"r5","h":1.5,"v":-2.8},{"s":"r5","h":2,"v":-3.6},{"s":"r5","h":2.5,"v":-4.4},{"s":"r5","h":3,"v":-5.2},{"s":"r5","h":3.5,"v":-6},{"s":"r5","h":4,"v":-6.8},{"s":"r5","h":4.4,"v":-4},{"s":"r5","h":5,"v":-5},{"s":"r5","h":5.6,"v":-6},{"s":"r5","h":6.2,"v":-7},{"s":"r5","h":6.8,"v":-8},{"s":"r5","h":7.4,"v":-9},{"s":"r5","h":8,"v":-9.5},{"s":"r5","h":8.6,"v":-8},{"s":"r5","h":9.35,"v":-10.6},{"s":"r5","h":10.0,"v":-11.5},{"s":"r5","h":10.6,"v":-13.2},{"s":"r5","h":11.1,"v":-14.5},{"s":"r5","h":11.5,"v":-15.5},{"s":"r5","h":11.7,"v":-12.8},{"s":"r5","h":12.0,"v":-13.4},{"s":"r5","h":12.5,"v":-14.5},{"s":"r5","h":12.9,"v":-15.2},{"s":"r5","h":13.2,"v":-12.8},{"s":"r5","h":13.6,"v":-13.2},{"s":"r5","h":14.2,"v":-14.9},{"s":"r5","h":14.5,"v":-12.8},{"s":"r5","h":14.9,"v":-13.5},{"s":"r5","h":15.2,"v":-14.2},{"s":"r5","h":15.6,"v":-16.1},{"s":"r5","h":16.2,"v":-16.3},{"s":"r5","h":16.35,"v":-10.6},{"s":"r5","h":16.5,"v":-1.7},{"s":"r5","h":17.0,"v":-1.8},{"s":"r5","h":17.5,"v":-1.5},{"s":"r5","h":18.4,"v":0},{"s":"r5","h":18.8,"v":0.8},{"s":"r5","h":19.2,"v":4.3},{"s":"r5","h":19.8,"v":6},{"s":"r5","h":20.3,"v":6.4},{"s":"r5","h":20.9,"v":5.6},{"s":"r5","h":21.5,"v":4.1},{"s":"r5","h":22.1,"v":3},{"s":"r5","h":22.7,"v":0.4},{"s":"r5","h":23.1,"v":1.8},{"s":"r5","h":23.4,"v":1.2},{"s":"r5","h":23.75,"v":2.4},
{"s":"c2","h":0,"v":0},{"s":"c2","h":10,"v":0},{"s":"c2","h":10.3,"v":-0.8},{"s":"c2","h":10.8,"v":-1.5},{"s":"c2","h":11.3,"v":-2.2},{"s":"c2","h":11.6,"v":1},{"s":"c2","h":12,"v":0.2},{"s":"c2","h":12.5,"v":-0.5},{"s":"c2","h":13,"v":2.5},{"s":"c2","h":13.5,"v":1.7},{"s":"c2","h":14,"v":1},{"s":"c2","h":14.5,"v":3.2},{"s":"c2","h":15,"v":2.5},{"s":"c2","h":15.5,"v":1.8},{"s":"c2","h":16,"v":2.6},{"s":"c2","h":16.6,"v":0.9},{"s":"c2","h":17.2,"v":0.2},{"s":"c2","h":17.6,"v":1.2},{"s":"c2","h":18.1,"v":3},{"s":"c2","h":18.7,"v":4.2},{"s":"c2","h":19.2,"v":3.5},{"s":"c2","h":19.7,"v":1},{"s":"c2","h":20.2,"v":-0.4},{"s":"c2","h":20.8,"v":-1},{"s":"c2","h":21.2,"v":-1.8},{"s":"c2","h":21.5,"v":-0.5},{"s":"c2","h":22.2,"v":3},{"s":"c2","h":22.6,"v":3.2},{"s":"c2","h":23.0,"v":7.5},{"s":"c2","h":23.4,"v":7.2},{"s":"c2","h":23.75,"v":7.5},
{"s":"c3","h":0,"v":-0.3},{"s":"c3","h":0.5,"v":-1.2},{"s":"c3","h":1,"v":-2},{"s":"c3","h":1.5,"v":-2.8},{"s":"c3","h":2,"v":-3.6},{"s":"c3","h":2.5,"v":-4.3},{"s":"c3","h":3,"v":-5},{"s":"c3","h":3.5,"v":-5.8},{"s":"c3","h":4,"v":-6.5},{"s":"c3","h":4.5,"v":-7.3},{"s":"c3","h":5,"v":-8},{"s":"c3","h":5.4,"v":-5},{"s":"c3","h":6,"v":-6},{"s":"c3","h":6.5,"v":-7},{"s":"c3","h":7,"v":-8},{"s":"c3","h":7.4,"v":-9.5},{"s":"c3","h":7.8,"v":-8.8},{"s":"c3","h":8.3,"v":-9.3},{"s":"c3","h":8.8,"v":-10},{"s":"c3","h":9.3,"v":-8.5},{"s":"c3","h":9.8,"v":-7.5},{"s":"c3","h":10.3,"v":-6.7},{"s":"c3","h":10.8,"v":-5.8},{"s":"c3","h":11.2,"v":-6.7},{"s":"c3","h":11.7,"v":-4.5},{"s":"c3","h":12.2,"v":-3.3},{"s":"c3","h":12.7,"v":-1.8},{"s":"c3","h":13.2,"v":-2.5},{"s":"c3","h":13.8,"v":-3.3},{"s":"c3","h":14.2,"v":-4},{"s":"c3","h":14.6,"v":-5.5},{"s":"c3","h":15.1,"v":-6.4},{"s":"c3","h":15.5,"v":-7.7},{"s":"c3","h":16.0,"v":-7.5},{"s":"c3","h":16.6,"v":-8.5},{"s":"c3","h":17.2,"v":-9},{"s":"c3","h":17.8,"v":-8.5},{"s":"c3","h":18.6,"v":-8.4},{"s":"c3","h":19.0,"v":-5.5},{"s":"c3","h":19.4,"v":-6},{"s":"c3","h":20,"v":-6.5},{"s":"c3","h":20.6,"v":-7.2},{"s":"c3","h":21.2,"v":-5.5},{"s":"c3","h":21.8,"v":-6.8},{"s":"c3","h":22.4,"v":-7.5},{"s":"c3","h":22.8,"v":-4.5},{"s":"c3","h":23.3,"v":-5.2},{"s":"c3","h":23.75,"v":-5.8},
{"s":"m2","h":0,"v":0},{"s":"m2","h":0.5,"v":-0.8},{"s":"m2","h":1,"v":1},{"s":"m2","h":1.5,"v":3.8},{"s":"m2","h":2,"v":3},{"s":"m2","h":2.5,"v":2.2},{"s":"m2","h":3,"v":1.3},{"s":"m2","h":3.5,"v":0.5},{"s":"m2","h":4,"v":2.5},{"s":"m2","h":4.5,"v":1.5},{"s":"m2","h":5,"v":0.8},{"s":"m2","h":5.5,"v":0},{"s":"m2","h":6,"v":-0.8},{"s":"m2","h":6.4,"v":-1.7},{"s":"m2","h":7,"v":-2.5},{"s":"m2","h":7.5,"v":-3.2},{"s":"m2","h":8,"v":-2},{"s":"m2","h":8.5,"v":-2.8},{"s":"m2","h":9,"v":-3.6},{"s":"m2","h":9.6,"v":-4.5},{"s":"m2","h":10,"v":-3.5},{"s":"m2","h":10.5,"v":-0.2},{"s":"m2","h":11,"v":-1},{"s":"m2","h":11.5,"v":-1.8},{"s":"m2","h":12,"v":-2.5},{"s":"m2","h":12.5,"v":-4},{"s":"m2","h":12.8,"v":-5.5},{"s":"m2","h":13.3,"v":-7},{"s":"m2","h":13.8,"v":-9.8},{"s":"m2","h":14.3,"v":-8.8},{"s":"m2","h":14.4,"v":-6},{"s":"m2","h":15,"v":-4},{"s":"m2","h":15.5,"v":-2},{"s":"m2","h":16,"v":-1},{"s":"m2","h":16.5,"v":-2.8},{"s":"m2","h":17,"v":-4},{"s":"m2","h":17.5,"v":-5.5},{"s":"m2","h":18.1,"v":-5.5},{"s":"m2","h":18.5,"v":-2.7},{"s":"m2","h":19,"v":-3},{"s":"m2","h":19.7,"v":-2.7},{"s":"m2","h":20.3,"v":-3.5},{"s":"m2","h":21.2,"v":-1.1},{"s":"m2","h":21.8,"v":-1.8},{"s":"m2","h":22.5,"v":-3.3},{"s":"m2","h":23,"v":-4},{"s":"m2","h":23.5,"v":-5},{"s":"m2","h":23.75,"v":-5},
{"s":"m3","h":0,"v":-0.5},{"s":"m3","h":0.5,"v":-1.5},{"s":"m3","h":1.0,"v":-2.5},{"s":"m3","h":1.5,"v":-3.4},{"s":"m3","h":2.0,"v":-4.2},{"s":"m3","h":2.5,"v":-5},{"s":"m3","h":3,"v":-5.8},{"s":"m3","h":3.5,"v":-6.6},{"s":"m3","h":4,"v":-7.4},{"s":"m3","h":4.5,"v":-8.2},{"s":"m3","h":5,"v":-9},{"s":"m3","h":5.3,"v":-4.5},{"s":"m3","h":5.9,"v":-5.5},{"s":"m3","h":6.5,"v":-6.5},{"s":"m3","h":7,"v":-4},{"s":"m3","h":7.6,"v":-5},{"s":"m3","h":8.2,"v":-6},{"s":"m3","h":8.8,"v":-7},{"s":"m3","h":9.4,"v":-7.5},{"s":"m3","h":10,"v":-8.5},{"s":"m3","h":10.5,"v":-9.2},{"s":"m3","h":11.2,"v":-8},{"s":"m3","h":11.6,"v":-5.5},{"s":"m3","h":12.2,"v":-6.5},{"s":"m3","h":12.8,"v":-1.5},{"s":"m3","h":13.3,"v":-2.5},{"s":"m3","h":13.7,"v":-1},{"s":"m3","h":14.3,"v":-1.8},{"s":"m3","h":15,"v":-2.5},{"s":"m3","h":15.6,"v":0.5},{"s":"m3","h":16.2,"v":-0.2},{"s":"m3","h":16.8,"v":-1},{"s":"m3","h":17.2,"v":1.6},{"s":"m3","h":17.8,"v":0.8},{"s":"m3","h":18.4,"v":0},{"s":"m3","h":19,"v":-0.5},{"s":"m3","h":19.6,"v":-1.5},{"s":"m3","h":20.2,"v":-2.4},{"s":"m3","h":20.8,"v":-2},{"s":"m3","h":21.5,"v":-3},{"s":"m3","h":22,"v":-4.5},{"s":"m3","h":22.5,"v":-5.5},{"s":"m3","h":23,"v":-6},{"s":"m3","h":23.3,"v":-4},{"s":"m3","h":23.75,"v":-4.5}
]},
"data": {"name": "d"},
"layer": [
{"mark": {"type": "line", "strokeWidth": 1.2, "clip": true},
 "encoding": {
  "x": {"field": "h", "type": "quantitative", "scale": {"domain": [0, 23.75], "nice": false, "zero": false},
        "axis": {"values": [0,1,2,3,4,5,6,7,8,9,10,11,12,13,14,15,16,17,18,19,20,21,22,23], "title": "Hour of Day", "tickSize": -5, "labelPadding": 12, "titlePadding": 4, "labelFlush": false, "labelOverlap": false}},
  "y": {"field": "v", "type": "quantitative", "scale": {"domain": [-30, 40], "nice": false, "zero": false},
        "axis": {"values": [-30,-20,-10,0,10,20,30,40], "title": "Cumulative (Z*Z)-1", "tickSize": -8, "labelPadding": 16, "titlePadding": 6, "labelFlush": false, "labelOverlap": false}},
  "color": {"field": "s", "type": "nominal", "legend": null,
   "scale": {"domain": ["p1","p2","p3","k1","k2","g1","g2","c3","m2","m3","r3","r4","r5","b5","b2","b3","b4","c2","y2","y1","r1","m1","r2","c1","b1"],
             "range": ["#5050ff","#5050ff","#5050ff","#000000","#000000","#00a000","#00a000","#40ffff","#ff50ff","#ff50ff","#ff0000","#ff0000","#b00000","#0000ff","#0000ff","#0000ff","#0000d0","#40ffff","#ffff00","#ffff00","#ff0000","#ff50ff","#b00000","#40ffff","#0000ff"]}}
 }},
{"mark": {"type": "point", "opacity": 0},
 "encoding": {
  "x": {"field": "h", "type": "quantitative", "axis": {"orient": "top", "values": [0,1,2,3,4,5,6,7,8,9,10,11,12,13,14,15,16,17,18,19,20,21,22,23], "labels": false, "title": null, "tickSize": -5, "domain": false}},
  "y": {"field": "v", "type": "quantitative", "axis": {"orient": "right", "values": [-30,-20,-10,0,10,20,30,40], "labels": false, "title": null, "tickSize": -8, "domain": false}}
 }}
],
"resolve": {"axis": {"x": "independent", "y": "independent"}}
}
